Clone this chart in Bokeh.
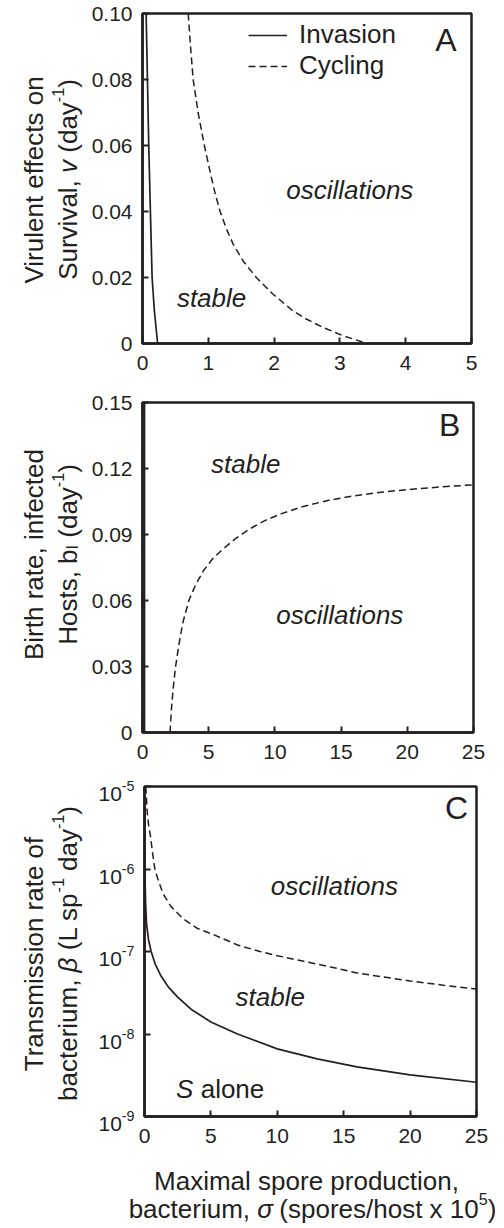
from math import pi
from bokeh.plotting import figure
from bokeh.layouts import column, row
from bokeh.models import Range1d, FixedTicker, Label, Legend, LegendItem, ColumnDataSource
from bokeh.embed import file_html
from bokeh.resources import INLINE

# ---------------- data ----------------
# Panel A: sigma (x) vs virulence v
A_inv_sigma = [0.055, 0.075, 0.095, 0.12, 0.146, 0.18, 0.23]
A_inv_v = [0.10, 0.08, 0.06, 0.04, 0.02, 0.01, 0.0]
A_cyc_sigma = [0.695, 0.73, 0.77, 0.845, 0.94, 1.05, 1.11, 1.18, 1.27, 1.38, 1.53, 1.73, 1.98, 2.28,
               2.48, 2.73, 3.03, 3.41]
A_cyc_v = [0.10, 0.09, 0.08, 0.07, 0.06, 0.05, 0.045, 0.04, 0.035, 0.03, 0.025, 0.02, 0.015, 0.01,
           0.0075, 0.005, 0.0025, 0.0]

# Panel B: sigma vs birth rate of infected hosts
B_inv_sigma = [0.15, 0.15]
B_inv_b = [0.0, 0.15]
B_cyc_sigma = [2.08, 2.2, 2.35, 2.5, 2.75, 3.05, 3.5, 4.0, 4.6, 5.3, 6.1, 7.0, 8.0, 9.2, 10.5, 12.0,
               14.0, 16.0, 18.0, 20.0, 22.5, 25.0]
B_cyc_b = [0.0, 0.012, 0.022, 0.03, 0.04, 0.05, 0.06, 0.067, 0.0735, 0.079, 0.0835, 0.088, 0.0922,
           0.0962, 0.0995, 0.1025, 0.1055, 0.1076, 0.1092, 0.1104, 0.1116, 0.1126]

# Panel C: sigma vs transmission rate beta (log)
C_inv_sigma = [0.01, 0.03, 0.08, 0.15, 0.3, 0.5, 0.8, 1.2, 1.8, 2.5, 3.5, 5.0, 7.0, 10.0, 13.0, 16.0, 20.0, 25.0]
C_inv_beta = [6.3e-6, 1.0e-6, 4.0e-7, 2.2e-7, 1.4e-7, 1.0e-7, 7.1e-8, 5.2e-8, 3.7e-8, 2.8e-8, 2.0e-8,
              1.4e-8, 1.0e-8, 6.6e-9, 5.0e-9, 4.0e-9, 3.2e-9, 2.6e-9]
C_cyc_sigma = [0.1, 0.2, 0.3, 0.45, 0.6, 0.78, 1.0, 1.4, 2.0, 2.9, 4.0, 5.2, 7.0, 8.7, 10.0, 12.0, 14.0,
               16.0, 18.0, 20.0, 22.5, 25.0]
C_cyc_beta = [1.0e-5, 5.0e-6, 3.5e-6, 2.5e-6, 1.6e-6, 1.0e-6, 7.6e-7, 5.0e-7, 3.5e-7, 2.5e-7, 1.9e-7,
              1.6e-7, 1.2e-7, 1.0e-7, 8.9e-8, 7.6e-8, 6.5e-8, 5.5e-8, 4.9e-8, 4.4e-8, 3.9e-8, 3.5e-8]

# ticks
A_xticks = [0, 1, 2, 3, 4, 5]
A_xlabels = ["0", "1", "2", "3", "4", "5"]
A_yticks = [0, 0.02, 0.04, 0.06, 0.08, 0.10]
A_ylabels = ["0", "0.02", "0.04", "0.06", "0.08", "0.10"]
BC_xticks = [0, 5, 10, 15, 20, 25]
BC_xlabels = ["0", "5", "10", "15", "20", "25"]
B_yticks = [0, 0.03, 0.06, 0.09, 0.12, 0.15]
B_ylabels = ["0", "0.03", "0.06", "0.09", "0.12", "0.15"]
C_yticks = [1e-9, 1e-8, 1e-7, 1e-6, 1e-5]
C_yexp = ["-9", "-8", "-7", "-6", "-5"]

# ---------------- styling ----------------
INK = "#231f20"
FONT = "Liberation Sans"
TICK = 21
LAB = 26
FH = 330  # frame height of each panel (px)

W = {' ': 278, '(': 333, ')': 333, ',': 278, '-': 333, '.': 278, '/': 278,
     'A': 667, 'B': 667, 'C': 722, 'H': 722, 'I': 278, 'L': 556, 'M': 833, 'S': 667, 'T': 611, 'V': 667,
     'a': 556, 'b': 556, 'c': 500, 'd': 556, 'e': 556, 'f': 278, 'g': 556, 'h': 556, 'i': 222, 'l': 222,
     'm': 833, 'n': 556, 'o': 556, 'p': 556, 'r': 333, 's': 500, 't': 278, 'u': 556, 'v': 500, 'x': 500,
     'y': 500, 'β': 572, 'σ': 570}


def text_w(t, fs):
    return sum(W.get(c, 556) for c in t) / 1000.0 * fs


def rich(p, x, y, segs, size, along, across, rotated, align="center", sup_scale=0.62):
    items = []
    total = 0.0
    for t, k in segs:
        fs = size * sup_scale if k in ("sup", "sub") else size
        items.append((t, k, fs, total))
        total += text_w(t, fs)
    if align == "center":
        start = along - total / 2
    elif align == "right":
        start = along - total
    else:
        start = along
    for t, k, fs, pos in items:
        lead = len(t) - len(t.lstrip(" "))
        pos += lead * 0.278 * fs
        txt = t.strip(" ")
        shift = 0.36 * size if k == "sup" else (-0.16 * size if k == "sub" else 0.0)
        style = "italic" if k == "i" else "normal"
        kw = dict(x=x, y=y, text=txt, text_font=FONT, text_font_size=f"{fs:.1f}px",
                  text_font_style=style, text_color=INK, text_align="left",
                  text_baseline="alphabetic")
        if rotated:
            lab = Label(x_offset=across - shift, y_offset=start + pos, angle=pi / 2, **kw)
        else:
            lab = Label(x_offset=start + pos, y_offset=across + shift, **kw)
        p.add_layout(lab)


def make_fig(w, h, xr, yr, top, bottom, left, right, y_log=False):
    p = figure(width=w, height=h, x_range=Range1d(*xr), y_range=Range1d(*yr),
               y_axis_type="log" if y_log else "linear",
               output_backend="svg", toolbar_location=None, frame_align=False,
               min_border_top=top, min_border_bottom=bottom,
               min_border_left=left, min_border_right=right)
    p.grid.grid_line_color = None
    p.outline_line_color = INK
    p.outline_line_width = 2.5
    p.outline_line_alpha = 1.0
    p.background_fill_color = "white"
    p.border_fill_color = "white"
    for ax in p.axis:
        ax.axis_line_color = INK
        ax.axis_line_width = 2.5
        ax.major_tick_in = 6
        ax.major_tick_out = 0
        ax.major_tick_line_color = INK
        ax.major_tick_line_width = 2
        ax.minor_tick_line_color = None
        ax.major_label_text_font = FONT
        ax.major_label_text_font_size = f"{TICK}px"
        ax.major_label_text_color = INK
        ax.major_label_standoff = 10
    p.xaxis.major_label_standoff = 12
    return p


def text_fig(w, h, yr=None, y_log=False):
    p = figure(width=w, height=h, x_range=Range1d(0, w),
               y_range=Range1d(*(yr if yr is not None else (0, h))),
               y_axis_type="log" if y_log else "linear",
               x_axis_location=None, y_axis_location=None,
               output_backend="svg", toolbar_location=None, frame_align=False,
               min_border_top=0, min_border_bottom=0, min_border_left=0, min_border_right=0)
    p.outline_line_color = None
    p.background_fill_color = "white"
    p.border_fill_color = "white"
    p.grid.visible = False
    return p


def region_text(p, x, y, t, size=LAB, style="italic"):
    p.add_layout(Label(x=x, y=y, text=t, text_font=FONT, text_font_size=f"{size}px",
                       text_font_style=style, text_color=INK, text_align="center",
                       text_baseline="middle"))


# ---------------- Panel A ----------------
A_top, A_bot = 13, 39
A_h = A_top + FH + A_bot
pA = make_fig(412, A_h, (0, 5), (0, 0.1), A_top, A_bot, 50, 29)
pA.xaxis.ticker = FixedTicker(ticks=A_xticks)
pA.xaxis.major_label_overrides = dict(zip(A_xticks, A_xlabels))
pA.yaxis.ticker = FixedTicker(ticks=A_yticks)
pA.yaxis.major_label_overrides = dict(zip(A_yticks, A_ylabels))
rA1 = pA.line(x="s", y="v", source=ColumnDataSource(dict(s=A_inv_sigma, v=A_inv_v)),
              line_color=INK, line_width=1.7)
rA2 = pA.line(x="s", y="v", source=ColumnDataSource(dict(s=A_cyc_sigma, v=A_cyc_v)),
              line_color=INK, line_width=1.5, line_dash="7 4")
leg = Legend(items=[LegendItem(label="Invasion", renderers=[rA1]),
                    LegendItem(label="Cycling", renderers=[rA2])],
             location=(106, 262), padding=0, margin=0, spacing=0,
             glyph_width=39, glyph_height=26, label_height=26, label_standoff=12,
             label_text_font=FONT, label_text_font_size=f"{LAB}px", label_text_color=INK,
             border_line_color=None, background_fill_alpha=0.0)
pA.add_layout(leg)
region_text(pA, 3.15, 0.0465, "oscillations")
region_text(pA, 1.05, 0.0138, "stable")
region_text(pA, 4.61, 0.0921, "A", size=32, style="normal")

labA = text_fig(88, A_h)
rich(labA, 33, A_h - 179, [("Virulent effects on", "n")], LAB, 0, 0, True)
rich(labA, 67, A_h - 179,
     [("Survival, ", "n"), ("v", "i"), (" (day", "n"), ("-1", "sup"), (")", "n")], LAB, 0, 0, True)

# ---------------- Panel B ----------------
B_top, B_bot = 20, 38
B_h = B_top + FH + B_bot
pB = make_fig(412, B_h, (0, 25), (0, 0.15), B_top, B_bot, 54, 27)
pB.xaxis.ticker = FixedTicker(ticks=BC_xticks)
pB.xaxis.major_label_overrides = dict(zip(BC_xticks, BC_xlabels))
pB.yaxis.ticker = FixedTicker(ticks=B_yticks)
pB.yaxis.major_label_overrides = dict(zip(B_yticks, B_ylabels))
pB.line(x="s", y="b", source=ColumnDataSource(dict(s=B_inv_sigma, b=B_inv_b)),
        line_color=INK, line_width=1.7)
pB.line(x="s", y="b", source=ColumnDataSource(dict(s=B_cyc_sigma, b=B_cyc_b)),
        line_color=INK, line_width=1.5, line_dash="7 4")
region_text(pB, 7.8, 0.122, "stable")
region_text(pB, 14.9, 0.0532, "oscillations")
region_text(pB, 23.2, 0.1397, "B", size=32, style="normal")

labB = text_fig(88, B_h)
B_lab_y = B_h - (554 - A_h)  # label centre (page y 554) measured from bottom of this row
rich(labB, 33, B_lab_y, [("Birth rate, infected", "n")], LAB, 0, 0, True)
rich(labB, 67, B_lab_y,
     [("Hosts, b", "n"), ("I", "sub"), (" (day", "n"), ("-1", "sup"), (")", "n")], LAB, 0, 0, True)

# ---------------- Panel C ----------------
C_top, C_bot = 16, 38
C_h = C_top + FH + C_bot
pC = make_fig(364, C_h, (0, 25), (1e-9, 1e-5), C_top, C_bot, 8, 24, y_log=True)
pC.xaxis.ticker = FixedTicker(ticks=BC_xticks)
pC.xaxis.major_label_overrides = dict(zip(BC_xticks, BC_xlabels))
pC.yaxis.ticker = FixedTicker(ticks=C_yticks)
pC.yaxis.major_label_overrides = {t: "" for t in C_yticks}
pC.yaxis.major_label_text_font_size = "0px"
pC.yaxis.major_label_standoff = 0
pC.line(x="s", y="b", source=ColumnDataSource(dict(s=C_inv_sigma, b=C_inv_beta)),
        line_color=INK, line_width=1.7)
pC.line(x="s", y="b", source=ColumnDataSource(dict(s=C_cyc_sigma, b=C_cyc_beta)),
        line_color=INK, line_width=1.5, line_dash="7 4")
region_text(pC, 14.3, 6.2e-7, "oscillations")
region_text(pC, 9.47, 2.8e-8, "stable")
region_text(pC, 23.5, 5.5e-6, "C", size=32, style="normal")
rich(pC, 2.38, 2.75e-9, [("S", "i"), (" alone", "n")], LAB, 0, -9, False, align="left")

# text column left of panel C shares the log scale of panel C
dec = 4.0 / FH  # decades per pixel
labC = text_fig(136, C_h, yr=(10 ** (-9 - dec * C_bot), 10 ** (-5 + dec * C_top)), y_log=True)
for t, e in zip(C_yticks, C_yexp):
    rich(labC, 134, t, [("10", "n"), (e, "sup")], TICK, 0, -7.5, False, align="right", sup_scale=0.68)
rich(labC, 33, 1e-7, [("Transmission rate of", "n")], LAB, -2, 0, True)
rich(labC, 67, 1e-7, [("bacterium, ", "n"), ("β", "i"), (" (L sp", "n"), ("-1", "sup"), (" day", "n"),
                      ("-1", "sup"), (")", "n")], LAB, -2, 0, True)

# x-axis title under panel C
XL_h = 72
xl = text_fig(500, XL_h)
rich(xl, 306, 46, [("Maximal spore production,", "n")], LAB, 0, 0, False)
rich(xl, 312, 18, [("bacterium, ", "n"), ("σ", "i"), (" (spores/host x 10", "n"), ("5", "sup"),
                   (")", "n")], LAB, 0, 0, False)

layout = column(row(labA, pA, spacing=0), row(labB, pB, spacing=0), row(labC, pC, spacing=0), xl,
                spacing=0)
open("out.html", "w").write(file_html(layout, INLINE))
